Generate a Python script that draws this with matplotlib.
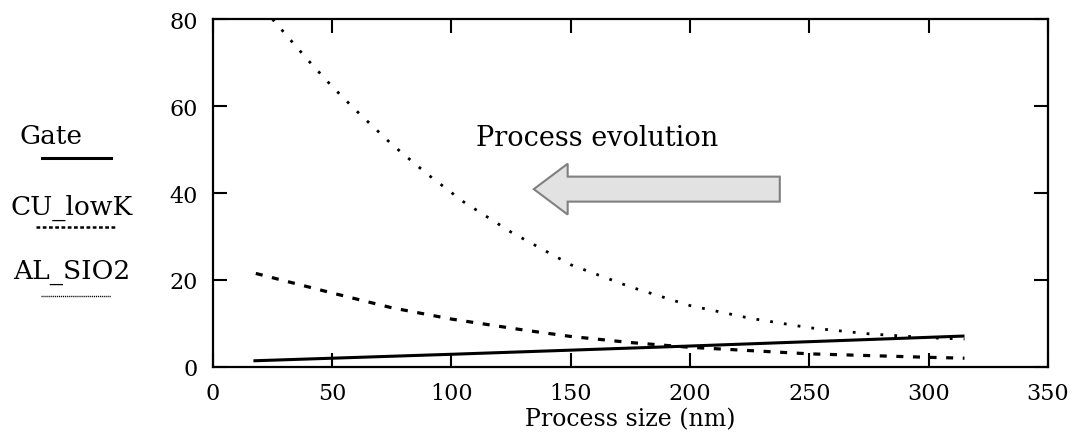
import matplotlib.pyplot as plt
from matplotlib.lines import Line2D
from matplotlib.patches import FancyArrow

plt.rcParams['font.family'] = ['DejaVu Serif']

# values
gate_x = [17, 100, 200, 315]
gate_y = [1.4, 2.9, 4.8, 7.1]

cu_x = [18, 50, 75, 100, 130, 150, 175, 200, 250, 300, 315]
cu_y = [21.5, 17.0, 13.6, 11.0, 8.5, 7.0, 5.6, 4.5, 3.0, 2.2, 2.0]

al_x = [25, 40, 50, 60, 75, 90, 105, 125, 150, 175, 200, 225, 250, 275, 300, 315]
al_y = [80, 70.5, 64.5, 59, 51.2, 44.3, 38, 31, 23.5, 18.4, 14.1, 11.2, 9.0, 7.6, 6.7, 6.4]

xticks = [0, 50, 100, 150, 200, 250, 300, 350]
yticks = [0, 20, 40, 60, 80]

fig = plt.figure(figsize=(10.86, 4.39), dpi=100)
ax = fig.add_axes([0.196, 0.162, 0.769, 0.792])

ax.plot(gate_x, gate_y, color='black', lw=2.2, solid_capstyle='butt')
ax.plot(cu_x, cu_y, color='black', lw=2.3, linestyle=(0, (2.2, 3)))
ax.plot(al_x, al_y, color='black', lw=2.0, linestyle=(0, (1, 4)))

ax.set_xlim(0, 350)
ax.set_ylim(0, 80)
ax.set_xticks(xticks)
ax.set_yticks(yticks)
ax.tick_params(direction='in', length=10, width=1.5, top=True, right=True,
               labelsize=16, pad=11)
for s in ax.spines.values():
    s.set_linewidth(1.6)
ax.set_xlabel('Process size (nm)', fontsize=17, labelpad=2)

# arrow + caption
ax.text(161, 51, 'Process evolution', fontsize=19.5, ha='center', va='baseline')
ax.add_patch(FancyArrow(237.6, 40.9, -103.1, 0, width=5.75, head_width=11.7,
                        head_length=14.2, length_includes_head=True,
                        facecolor='#e2e2e2', edgecolor='#808080', lw=1.5))

# hand-made legend on the left: name, style, width, text x/y, line x0/x1/y
leg = [('Gate', '-', 2.2, 0.0175, 0.688, 0.0387, 0.102, 0.638),
       ('CU_lowK', (0, (1.5, 1.0)), 1.8, 0.010, 0.526, 0.033, 0.108, 0.481),
       ('AL_SIO2', (0, (0.8, 0.6)), 1.0, 0.012, 0.380, 0.0378, 0.102, 0.323)]
for name, ls, lw, tx, ty, x0, x1, ly in leg:
    fig.text(tx, ty, name, fontsize=19, ha='left', va='center')
    fig.add_artist(Line2D([x0, x1], [ly, ly], transform=fig.transFigure,
                          color='black', lw=lw, linestyle=ls))

fig.savefig('out.png', dpi=100)
